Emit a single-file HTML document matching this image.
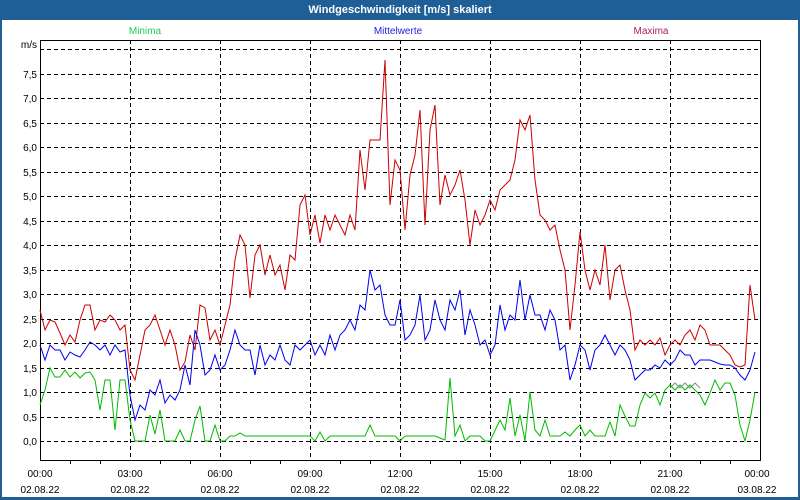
<!DOCTYPE html>
<html><head><meta charset="utf-8"><style>
html,body{margin:0;padding:0;width:800px;height:500px;overflow:hidden;background:#fff}
svg{display:block;font-family:"Liberation Sans",sans-serif}
</style></head><body>
<svg width="800" height="500" viewBox="0 0 800 500">
<rect x="0" y="0" width="800" height="500" fill="#1f5f95"/>
<rect x="2" y="20" width="796" height="477" fill="#fff"/>
<text x="400" y="13" fill="#fff" font-size="11" font-weight="bold" text-anchor="middle">Windgeschwindigkeit [m/s] skaliert</text>
<text x="145" y="34" fill="#22cc55" font-size="10" text-anchor="middle">Minima</text>
<text x="398" y="34" fill="#2222dd" font-size="10" text-anchor="middle">Mittelwerte</text>
<text x="651" y="34" fill="#aa2255" font-size="10" text-anchor="middle">Maxima</text>
<g stroke="#000" stroke-width="1" stroke-dasharray="4,3" fill="none">
<line x1="40" y1="49.5" x2="760" y2="49.5"/>
<line x1="40" y1="74.5" x2="760" y2="74.5"/><line x1="40" y1="98.5" x2="760" y2="98.5"/>
<line x1="40" y1="123.5" x2="760" y2="123.5"/><line x1="40" y1="147.5" x2="760" y2="147.5"/>
<line x1="40" y1="172.5" x2="760" y2="172.5"/><line x1="40" y1="196.5" x2="760" y2="196.5"/>
<line x1="40" y1="221.5" x2="760" y2="221.5"/><line x1="40" y1="245.5" x2="760" y2="245.5"/>
<line x1="40" y1="270.5" x2="760" y2="270.5"/><line x1="40" y1="294.5" x2="760" y2="294.5"/>
<line x1="40" y1="319.5" x2="760" y2="319.5"/><line x1="40" y1="343.5" x2="760" y2="343.5"/>
<line x1="40" y1="368.5" x2="760" y2="368.5"/><line x1="40" y1="392.5" x2="760" y2="392.5"/>
<line x1="40" y1="417.5" x2="760" y2="417.5"/><line x1="40" y1="441.5" x2="760" y2="441.5"/>
<line x1="130.5" y1="40" x2="130.5" y2="460"/><line x1="220.5" y1="40" x2="220.5" y2="460"/>
<line x1="310.5" y1="40" x2="310.5" y2="460"/><line x1="400.5" y1="40" x2="400.5" y2="460"/>
<line x1="490.5" y1="40" x2="490.5" y2="460"/><line x1="580.5" y1="40" x2="580.5" y2="460"/>
<line x1="670.5" y1="40" x2="670.5" y2="460"/>
</g>
<g stroke="#000" stroke-width="1" fill="none">
<path d="M40.5 40.5H760.5V460.5H40.5Z"/>
<path d="M70.5 460v4M100.5 460v4M160.5 460v4M190.5 460v4M250.5 460v4M280.5 460v4M340.5 460v4M370.5 460v4M430.5 460v4M460.5 460v4M520.5 460v4M550.5 460v4M610.5 460v4M640.5 460v4M700.5 460v4M730.5 460v4"/>
</g>
<g font-size="10" fill="#000" text-anchor="end">
<text x="37" y="48">m/s</text>
<text x="37" y="78">7,5</text><text x="37" y="102">7,0</text><text x="37" y="127">6,5</text>
<text x="37" y="151">6,0</text><text x="37" y="176">5,5</text><text x="37" y="200">5,0</text>
<text x="37" y="225">4,5</text><text x="37" y="249">4,0</text><text x="37" y="274">3,5</text>
<text x="37" y="298">3,0</text><text x="37" y="323">2,5</text><text x="37" y="347">2,0</text>
<text x="37" y="372">1,5</text><text x="37" y="396">1,0</text><text x="37" y="421">0,5</text>
<text x="37" y="445">0,0</text>
</g>
<g font-size="10" fill="#000" text-anchor="middle">
<text x="40" y="477">00:00</text><text x="40" y="493">02.08.22</text>
<text x="130" y="477">03:00</text><text x="130" y="493">02.08.22</text>
<text x="220" y="477">06:00</text><text x="220" y="493">02.08.22</text>
<text x="310" y="477">09:00</text><text x="310" y="493">02.08.22</text>
<text x="400" y="477">12:00</text><text x="400" y="493">02.08.22</text>
<text x="490" y="477">15:00</text><text x="490" y="493">02.08.22</text>
<text x="580" y="477">18:00</text><text x="580" y="493">02.08.22</text>
<text x="670" y="477">21:00</text><text x="670" y="493">02.08.22</text>
<text x="757" y="477">00:00</text><text x="757" y="493">03.08.22</text>
</g>
<polyline fill="none" stroke="#cc0000" stroke-width="1" points="40,310 45,330 50,320 55,322 60,333 65,345 70,335 75,342 80,320 85,305 90,305 95,330 100,320 105,322 110,315 115,320 120,330 125,325 130,370 135,380 140,355 145,330 150,325 155,315 160,330 165,345 170,330 175,345 180,370 185,362 190,335 195,350 200,305 205,308 210,340 215,330 220,345 225,325 230,305 235,260 240,235 245,245 250,298 255,255 260,245 265,275 270,255 275,275 280,265 285,290 290,255 295,260 300,205 305,195 310,235 315,215 320,243 325,215 330,230 335,215 340,225 345,235 350,215 355,230 360,150 365,190 370,140 375,140 380,140 385,60 390,205 395,160 400,170 405,230 410,175 415,155 420,110 425,225 430,130 435,105 440,205 445,175 450,195 455,185 460,170 465,200 470,245 475,210 480,225 485,215 490,200 495,210 500,190 505,185 510,180 515,160 520,120 525,130 530,115 535,180 540,215 545,220 550,230 555,225 560,250 565,270 570,330 575,285 580,232 585,270 590,290 595,270 600,285 605,245 610,300 615,270 620,265 625,290 630,310 635,350 640,340 645,345 650,340 655,345 660,338 665,355 670,345 675,340 680,345 685,335 690,330 695,340 700,325 705,330 710,345 715,345 720,345 725,350 730,355 735,365 740,367 745,365 750,285 755,320"/>
<polyline fill="none" stroke="#0000ee" stroke-width="1" points="40,345 45,360 50,345 55,350 60,350 65,360 70,352 75,355 80,357 85,350 90,342 95,345 100,350 105,345 110,355 115,345 120,352 125,350 130,395 135,420 140,405 145,410 150,390 155,395 160,380 165,403 170,395 175,400 180,390 185,365 190,385 195,330 200,345 205,375 210,370 215,355 220,370 225,365 230,350 235,330 240,345 245,350 250,350 255,375 260,345 265,365 270,355 275,360 280,345 285,360 290,365 295,345 300,350 305,345 310,340 315,355 320,345 325,355 330,335 335,350 340,335 345,330 350,320 355,330 360,305 365,310 370,270 375,290 380,285 385,315 390,325 395,325 400,300 405,340 410,335 415,325 420,295 425,340 430,330 435,300 440,320 445,330 450,300 455,310 460,290 465,335 470,310 475,325 480,345 485,340 490,355 495,345 500,305 505,330 510,315 515,320 520,280 525,320 530,295 535,315 540,315 545,330 550,310 555,320 560,350 565,345 570,380 575,365 580,345 585,350 590,370 595,350 600,345 605,335 610,345 615,355 620,345 625,350 630,360 635,380 640,375 645,370 650,370 655,365 660,368 665,360 670,365 675,360 680,350 685,355 690,355 695,365 700,360 705,360 710,360 715,362 720,364 725,365 730,365 735,368 740,375 745,380 750,370 755,352"/>
<polyline fill="none" stroke="#888" stroke-width="1" points="670,388 675,383 680,388 685,383 690,388 695,383 700,388"/>
<polyline fill="none" stroke="#00bb00" stroke-width="1" points="40,405 45,390 50,368 55,377 60,377 65,370 70,377 75,372 80,378 85,373 90,372 95,380 100,410 105,380 110,380 115,430 120,380 125,380 130,420 135,441 140,441 145,441 150,415 155,434 160,410 165,441 170,441 175,441 180,430 185,441 190,441 195,420 200,406 205,441 210,441 215,425 220,441 225,441 230,436 235,436 240,433 245,436 250,436 260,436 270,436 280,436 290,436 300,436 310,436 315,441 320,432 325,441 330,436 340,436 350,436 360,436 365,436 370,425 375,436 385,436 395,436 400,441 405,436 415,436 425,436 435,436 445,440 450,378 455,436 460,425 465,441 470,436 480,436 485,441 490,441 500,420 505,430 510,398 515,436 520,415 525,441 530,392 535,430 540,436 545,420 550,436 560,436 565,432 570,436 575,430 580,425 585,436 590,430 595,436 600,436 605,436 610,422 615,436 620,405 625,416 630,426 635,426 640,405 645,393 650,398 655,393 660,405 665,390 670,385 675,390 680,385 685,390 690,385 695,390 700,395 705,405 710,393 715,380 720,390 725,383 730,383 735,395 740,425 745,441 750,420 755,392"/>
</svg>
</body></html>
